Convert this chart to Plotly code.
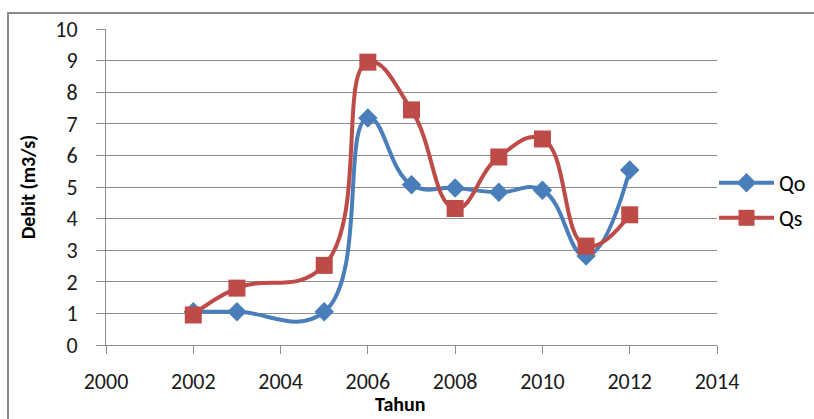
import plotly.graph_objects as go

# Annual discharge: observed (Qo) vs simulated (Qs)
years = [2002, 2003, 2005, 2006, 2007, 2008, 2009, 2010, 2011, 2012]
qo = [1.05, 1.05, 1.05, 7.18, 5.07, 4.97, 4.83, 4.9, 2.82, 5.54]
qs = [0.95, 1.8, 2.52, 8.95, 7.44, 4.32, 5.95, 6.52, 3.13, 4.12]

x_ticks = [2000, 2002, 2004, 2006, 2008, 2010, 2012, 2014]
y_ticks = list(range(0, 11))

W, H = 814, 419
L, R, T, B = 106, 97, 29, 74
pw, ph = W - L - R, H - T - B

FONT = "Carlito, Lato"
BLUE = "#4A7EBB"
RED = "#BE4B48"
GRID = "#8C8C8C"
TXT = "#1a1a1a"

fig = go.Figure()
fig.add_trace(go.Scatter(
    x=years, y=qo, name="Qo", mode="lines+markers", showlegend=True,
    line=dict(color=BLUE, width=4, shape="spline", smoothing=1.3),
    marker=dict(symbol="diamond", size=15, color=BLUE),
    legend="legend",
))
fig.add_trace(go.Scatter(
    x=years, y=qs, name="Qs", mode="lines+markers", showlegend=True,
    line=dict(color=RED, width=4, shape="spline", smoothing=1.3),
    marker=dict(symbol="square", size=17, color=RED),
    legend="legend2",
))

def px_x(px):
    return (px - L) / pw

def px_y(py):
    return 1 - (py - T) / ph

# outer chart border
fig.add_shape(type="rect", xref="paper", yref="paper",
              x0=px_x(8), x1=px_x(W + 12), y0=px_y(H + 12), y1=px_y(13),
              line=dict(color="#8A8A8A", width=2), fillcolor="rgba(0,0,0,0)")

# x-axis title, set slightly left of the plot centre
fig.add_annotation(text="<b>Tahun</b>", xref="paper", yref="paper",
                   x=px_x(400), y=px_y(418), showarrow=False,
                   xanchor="center", yanchor="bottom",
                   font=dict(family=FONT, size=20, color="#000"))

legend_common = dict(
    xref="container", yref="container",
    xanchor="left", yanchor="middle", bgcolor="rgba(0,0,0,0)",
    font=dict(family=FONT, size=22, color="#000"),
    itemwidth=55,
)

fig.update_layout(
    width=W, height=H,
    margin=dict(l=L, r=R, t=T, b=B, pad=0, autoexpand=False),
    paper_bgcolor="white", plot_bgcolor="white",
    legend=dict(x=714 / W, y=1 - 183 / H, **legend_common),
    legend2=dict(x=714 / W, y=1 - 218 / H, **legend_common),
    xaxis=dict(
        range=[2000, 2014], tickvals=x_ticks, automargin=False,
        ticks="outside", ticklen=8, tickcolor=GRID, tickwidth=1,
        ticklabelstandoff=9,
        showgrid=False, zeroline=False,
        showline=True, linecolor=GRID, linewidth=1,
        tickfont=dict(family=FONT, size=22, color=TXT),
    ),
    yaxis=dict(
        range=[0, 10], tickvals=y_ticks, automargin=False,
        ticks="outside", ticklen=9, tickcolor=GRID, tickwidth=1,
        ticklabelstandoff=14,
        showgrid=True, gridcolor=GRID, gridwidth=1, zeroline=False,
        showline=True, linecolor=GRID, linewidth=1,
        tickfont=dict(family=FONT, size=22, color=TXT),
        title=dict(text="<b>Debit (m3/s)</b>", font=dict(family=FONT, size=20, color="#000"), standoff=14),
    ),
)

fig.write_html("out.html")
